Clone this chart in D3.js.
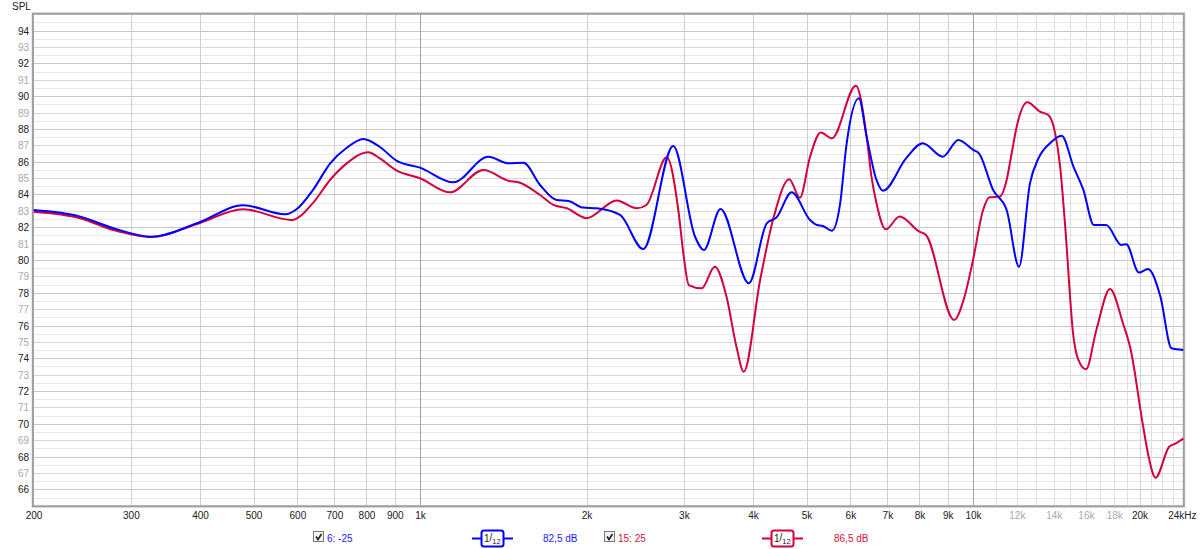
<!DOCTYPE html>
<html><head><meta charset="utf-8">
<script src="https://cdn.jsdelivr.net/npm/d3@7"></script>
<style>
html,body{margin:0;padding:0;background:#fff;}
svg{display:block;font-family:"Liberation Sans",Arial,sans-serif;}
</style></head>
<body>
<svg id="c" width="1200" height="549"></svg>
<script>
// ---- data ----
const blueFreq = [200,243,279,327,395,479,570,598,641,688,737,790,846,908,1000,1149,1329,1445,1538,1648,1767,1856,1973,2087,2300,2533,2870,3143,3260,3494,3932,4236,4414,4698,5073,5218,5350,5556,5751,5898,6217,6421,6689,6877,7566,8109,8818,9406,10010,10256,10873,11502,12109,12674,13130,13776,14465,15190,15835,16535,17414,18541,18927,19951,20715,21820,22847,24000];
const blueSPL  = [83.05,82.65,81.94,81.42,82.24,83.34,82.79,83.1,84.3,85.9,86.85,87.39,86.9,86.05,85.64,84.74,86.31,85.9,85.94,84.58,83.66,83.6,83.2,83.16,82.75,80.67,86.96,81.42,80.61,83.12,78.58,82.24,82.6,84.13,82.44,82.14,82.08,81.79,83.46,86.92,89.87,87.53,84.89,84.23,86.2,87.13,86.31,87.33,86.72,86.5,84.27,83.05,79.59,84.68,86.2,87.13,87.59,85.7,84.27,82.14,82.14,80.92,80.96,79.23,79.45,77.76,74.61,74.51];
const redFreq = [200,243,279,327,395,479,586,641,688,737,806,846,908,1000,1133,1302,1445,1516,1648,1742,1843,2000,2268,2465,2567,2793,2935,2996,3062,3230,3412,3583,3734,3849,4121,4355,4652,4863,5073,5305,5556,6140,6421,6550,6689,6954,7364,7998,8221,9240,9651,10000,10427,10714,11168,11502,11743,11993,12537,13209,13681,14077,14372,14663,15190,15507,16006,16711,17689,18667,19285,20259,20770,21375,22627,23269,24000];
const redSPL  = [82.95,82.55,81.83,81.4,82.2,83.1,82.44,83.5,84.9,85.9,86.58,86.2,85.45,84.99,84.13,85.5,84.84,84.72,83.97,83.36,83.16,82.55,83.64,83.16,83.36,86.27,82.9,80.3,78.47,78.27,79.59,77.76,74.7,73.18,78.78,82.55,84.93,83.8,86.3,87.78,87.43,90.64,87.53,85.1,83.47,81.87,82.65,81.73,81.53,76.34,77.76,80.0,83.05,83.83,83.87,84.89,86.5,88.14,89.63,89.06,88.85,87.73,85.7,82.24,75.32,73.9,73.33,75.73,78.23,76.14,74.51,70.04,68.0,66.71,68.6,68.81,69.1];
const yTicks = [66,67,68,69,70,71,72,73,74,75,76,77,78,79,80,81,82,83,84,85,86,87,88,89,90,91,92,93,94];
const xTicks = [200,300,400,500,600,700,800,900,1000,2000,3000,4000,5000,6000,7000,8000,9000,10000,12000,14000,16000,18000,20000,24000];
const xTickLabels = ["200","300","400","500","600","700","800","900","1k","2k","3k","4k","5k","6k","7k","8k","9k","10k","12k","14k","16k","18k","20k","24kHz"];
const grayXLabels = ["12k","14k","16k","18k"];
const legendItems = [
  {label:"6: -25", level:"82,5 dB", color:"#1a1aff"},
  {label:"15: 25", level:"86,5 dB", color:"#d6103e"}
];
const lineColors = ["#0000ff","#d4003c"];

// ---- scales ----
const svg = d3.select("#c");
const L = 33.5, R = 1183.3, T = 14.3, B = 505.7;
const x = d3.scaleLog().domain([200,24000]).range([L,R]);
const y = d3.scaleLinear().domain([65,95]).range([B,T]);

// ---- grid ----
const g = svg.append("g");
const hvals = d3.range(65.5, 95, 0.5);
g.selectAll("line.h").data(hvals).join("line")
  .attr("x1",L).attr("x2",R)
  .attr("y1",d=>Math.round(y(d))+0.5).attr("y2",d=>Math.round(y(d))+0.5)
  .attr("stroke",d=> (d%2===0) ? "#c6c6c6" : (d%1===0 ? "#d8d8d8" : "#e8e8e8"))
  .attr("stroke-width",1);

const vvals = [];
for (let f=300; f<1000; f+=100) vvals.push(f);
for (let f=1000; f<=10000; f+=1000) vvals.push(f);
for (let f=11000; f<24000; f+=1000) vvals.push(f);
g.selectAll("line.v").data(vvals).join("line")
  .attr("y1",T).attr("y2",B)
  .attr("x1",d=>Math.round(x(d))+0.5).attr("x2",d=>Math.round(x(d))+0.5)
  .attr("stroke",d=> (d===1000||d===10000) ? "#a4a4a4" : ((d>10000 && d!==20000) ? "#dedede" : "#cfcfcf"))
  .attr("stroke-width",1);

// ---- frame ----
svg.append("rect").attr("x",L-1.5).attr("y",T-1.5).attr("width",R-L+3).attr("height",B-T+3)
  .attr("fill","none").attr("stroke","#d8d8d8").attr("stroke-width",1);
svg.append("rect").attr("x",L-0.5).attr("y",T-0.5).attr("width",R-L+1).attr("height",B-T+1)
  .attr("fill","none").attr("stroke","#a0a0a0").attr("stroke-width",2);

// ---- axes ----
const yAxis = d3.axisLeft(y).tickValues(yTicks).tickSize(0).tickPadding(0).tickFormat(d3.format("d"));
const ya = svg.append("g").attr("transform",`translate(${L-4.5},0)`).call(yAxis);
ya.select(".domain").remove();
ya.selectAll("text").attr("font-size","10px").attr("font-family","Liberation Sans, Arial, sans-serif")
  .attr("fill",d=> d%2===0 ? "#202020" : "#a8a8a8").attr("dy","0.35em");

const xAxis = d3.axisBottom(x).tickValues(xTicks).tickSize(0).tickPadding(0)
  .tickFormat((d,i)=>xTickLabels[i]);
const xa = svg.append("g").attr("transform",`translate(0,${B+4})`).call(xAxis);
xa.select(".domain").remove();
xa.selectAll("text").attr("font-size","10px").attr("font-family","Liberation Sans, Arial, sans-serif")
  .attr("fill",(d,i)=> grayXLabels.includes(xTickLabels[i]) ? "#a8a8a8" : "#202020")
  .attr("dy","0.9em");
xa.selectAll(".tick").filter((d,i)=>xTickLabels[i]==="24kHz").select("text").attr("dx","-1.5");

svg.append("text").attr("x",12).attr("y",10).attr("font-size","10px").attr("fill","#202020").text("SPL");

// ---- curves ----
const line = d3.line().x(d=>x(d[0])).y(d=>y(d[1])).curve(d3.curveMonotoneX);
const series = [d3.zip(blueFreq,blueSPL), d3.zip(redFreq,redSPL)];
svg.append("clipPath").attr("id","pc").append("rect").attr("x",L).attr("y",T).attr("width",R-L+2).attr("height",B-T);
svg.append("g").attr("clip-path","url(#pc)").selectAll("path").data([series[1],series[0]]).join("path")
  .attr("d",line).attr("fill","none")
  .attr("stroke",(d,i)=> i===0 ? lineColors[1] : lineColors[0])
  .attr("stroke-width",2).attr("stroke-linejoin","round");

// ---- legend ----
const legX = [[313,472,543],[604,762,834]];
const leg = svg.append("g");
legendItems.forEach((it,i)=>{
  const [cx,sx,tx] = legX[i];
  const cy = 538;
  const gg = leg.append("g");
  gg.append("rect").attr("x",cx+0.5).attr("y",cy-6.5).attr("width",10).attr("height",10)
    .attr("fill","#f2f2f2").attr("stroke","#7a7a7a");
  gg.append("path").attr("d",`M${cx+3},${cy-1.5} L${cx+5},${cy+1.5} L${cx+8.5},${cy-4}`)
    .attr("fill","none").attr("stroke","#202020").attr("stroke-width",1.6);
  gg.append("text").attr("x",cx+14).attr("y",cy+3.5).attr("font-size","10px").attr("fill",it.color).text(it.label);
  // line-style symbol
  gg.append("line").attr("x1",sx).attr("x2",sx+41).attr("y1",cy+0.5).attr("y2",cy+0.5)
    .attr("stroke",lineColors[i]).attr("stroke-width",2);
  gg.append("rect").attr("x",sx+9.5).attr("y",cy-7.5).attr("width",22).attr("height",16).attr("rx",2.5)
    .attr("fill","#fff").attr("stroke",lineColors[i]).attr("stroke-width",2);
  const t = gg.append("text").attr("x",sx+12).attr("y",cy+3.5).attr("font-size","10px").attr("fill","#202020");
  t.append("tspan").text("1");
  t.append("tspan").attr("dy","-0.5").text("/");
  t.append("tspan").attr("font-size","7.5px").attr("dy","3").text("12");
  gg.append("text").attr("x",tx).attr("y",cy+3.5).attr("font-size","10px").attr("fill",it.color).text(it.level);
});
</script>
</body></html>
